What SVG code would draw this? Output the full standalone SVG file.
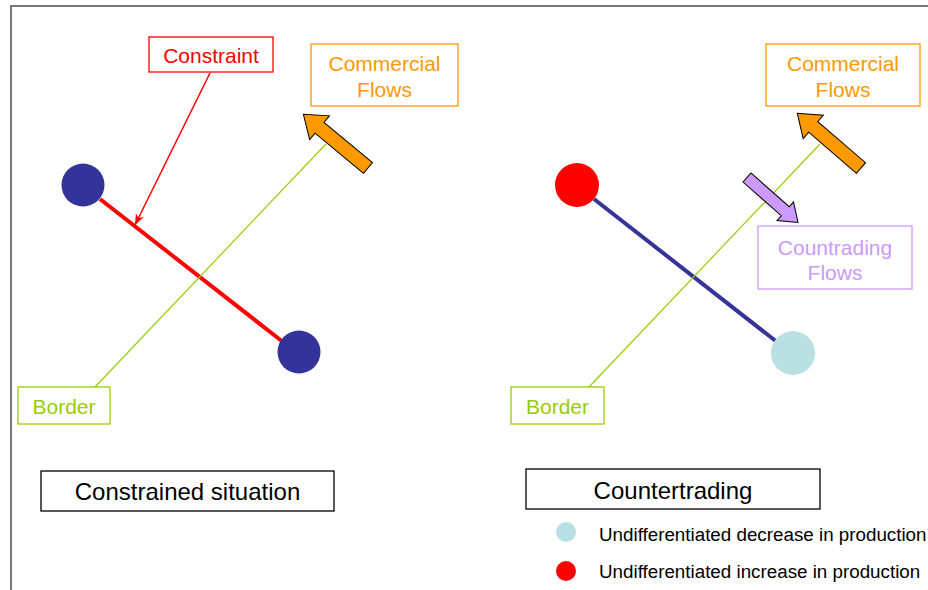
<svg xmlns="http://www.w3.org/2000/svg" width="928" height="590" viewBox="0 0 928 590">
<defs>
<style>
text{font-family:"Liberation Sans",Arial,sans-serif;text-anchor:middle}
.box{fill:#fff;stroke-width:1.3}
.lbl{font-size:21px}
.title{font-size:24px;fill:#000}
.leg{font-size:18.8px;fill:#000;text-anchor:start}
.blue{fill:#333399}
.lb{fill:#B9E0E3}
.red{fill:#FF0000}
.border{stroke:#99CC00;stroke-width:1.2;fill:none}
</style>
<marker id="ah" viewBox="0 0 10 10" refX="10" refY="5" markerWidth="11" markerHeight="11" markerUnits="userSpaceOnUse" orient="auto">
<path d="M0,1 L10,5 L0,9 L3,5 Z" fill="#FF0000"/>
</marker>
<path id="orange" d="M0,-7 L63,-7 L63,-15.5 L84,0 L63,15.5 L63,7 L0,7 Z" fill="#FF9900" stroke="#000" stroke-width="1"/>
</defs>
<rect width="928" height="590" fill="#fff"/>
<path d="M11,590 L11,6 L928,6" fill="none" stroke="#777" stroke-width="2"/>

<g id="connectors">
<line x1="100" y1="199" x2="283" y2="342" stroke="#FF0000" stroke-width="4"/>
<line x1="594" y1="199" x2="777" y2="342" stroke="#333399" stroke-width="4"/>
<line class="border" x1="95" y1="387" x2="326" y2="144"/>
<line class="border" x1="589" y1="387" x2="820" y2="144"/>
<line x1="210" y1="73" x2="135" y2="225" stroke="#FF0000" stroke-width="1.5" marker-end="url(#ah)"/>
<use href="#orange" transform="translate(368,168) rotate(-140.3)"/>
<use href="#orange" transform="translate(861,168) rotate(-139.3)"/>
<path d="M0,-6 L51,-6 L51,-12.5 L68,0 L51,12.5 L51,6 L0,6 Z" fill="#CC99FF" stroke="#000" stroke-width="1" transform="translate(747,177.5) rotate(41.4)"/>
</g>

<g id="left-node-1"><circle class="blue" cx="83" cy="185" r="21.5"/></g>
<g id="left-node-2"><circle class="blue" cx="299" cy="352" r="21.5"/></g>
<g id="right-node-1"><circle class="red" cx="577" cy="185" r="22"/></g>
<g id="right-node-2"><circle class="lb" cx="793" cy="353" r="22"/></g>

<g id="constraint">
<rect class="box" x="149" y="37" width="124" height="35" stroke="#FF0000"/>
<text class="lbl" x="211" y="63" fill="#FF0000">Constraint</text>
</g>
<g id="commercial-left">
<rect class="box" x="311" y="44" width="147" height="62" stroke="#FF9900"/>
<text class="lbl" x="384.5" y="70.5" fill="#FF9900">Commercial</text>
<text class="lbl" x="384.5" y="97" fill="#FF9900">Flows</text>
</g>
<g id="commercial-right">
<rect class="box" x="766" y="44" width="154" height="62" stroke="#FF9900"/>
<text class="lbl" x="843" y="70.5" fill="#FF9900">Commercial</text>
<text class="lbl" x="843" y="97" fill="#FF9900">Flows</text>
</g>
<g id="countrading">
<rect class="box" x="758" y="226" width="154" height="63" stroke="#CC99FF"/>
<text class="lbl" x="835" y="255" fill="#CC99FF">Countrading</text>
<text class="lbl" x="835" y="280" fill="#CC99FF">Flows</text>
</g>
<g id="border-left">
<rect class="box" x="18" y="387" width="92" height="37" stroke="#99CC00"/>
<text class="lbl" x="64" y="414" fill="#99CC00">Border</text>
</g>
<g id="border-right">
<rect class="box" x="511" y="387" width="93" height="37" stroke="#99CC00"/>
<text class="lbl" x="557.5" y="414" fill="#99CC00">Border</text>
</g>
<g id="title-left">
<rect class="box" x="41" y="471" width="293" height="40" stroke="#000"/>
<text class="title" x="187.5" y="500">Constrained situation</text>
</g>
<g id="title-right">
<rect class="box" x="526" y="469" width="294" height="40" stroke="#000"/>
<text class="title" x="673" y="499">Countertrading</text>
</g>
<g id="legend">
<circle class="lb" cx="566" cy="532" r="10"/>
<text class="leg" x="599" y="541">Undifferentiated decrease in production</text>
<circle class="red" cx="566" cy="571" r="10"/>
<text class="leg" x="599" y="578">Undifferentiated increase in production</text>
</g>
</svg>
